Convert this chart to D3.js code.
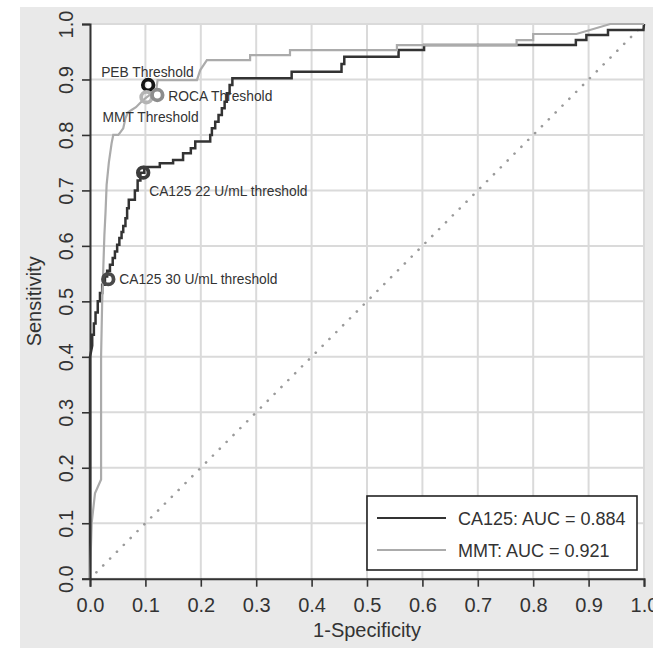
<!DOCTYPE html>
<html>
<head>
<meta charset="utf-8">
<script src="https://cdn.jsdelivr.net/npm/d3@7"></script>
<style>
  html, body { margin: 0; padding: 0; background: #ffffff; }
  svg text { font-family: "Liberation Sans", Arial, sans-serif; fill: #333; }
</style>
</head>
<body>
<svg id="chart" width="653" height="648"></svg>
<script>
// ROC curve for CA125 as [1-specificity, sensitivity] points (staircase corners)
const ca125Roc = [
  [0, 0], [0, 0.40], [0.002, 0.41], [0.004, 0.42],
  [0.004, 0.44], [0.007, 0.44], [0.007, 0.46], [0.010, 0.46], [0.010, 0.48],
  [0.014, 0.48], [0.014, 0.50], [0.018, 0.50], [0.018, 0.515], [0.022, 0.515],
  [0.022, 0.53], [0.027, 0.53], [0.027, 0.545], [0.031, 0.545], [0.031, 0.555],
  [0.036, 0.555], [0.036, 0.566], [0.041, 0.566], [0.041, 0.578], [0.045, 0.578],
  [0.045, 0.59], [0.049, 0.59], [0.049, 0.602], [0.053, 0.602], [0.053, 0.614],
  [0.057, 0.614], [0.057, 0.625], [0.060, 0.625], [0.060, 0.636], [0.064, 0.636],
  [0.064, 0.65], [0.067, 0.65], [0.067, 0.668], [0.070, 0.668], [0.070, 0.683],
  [0.081, 0.683], [0.081, 0.700], [0.086, 0.700], [0.086, 0.718], [0.091, 0.718],
  [0.091, 0.732], [0.098, 0.732], [0.098, 0.742], [0.126, 0.742], [0.126, 0.749],
  [0.150, 0.749], [0.150, 0.755], [0.168, 0.755], [0.168, 0.767], [0.182, 0.767],
  [0.182, 0.776], [0.190, 0.776], [0.190, 0.788], [0.217, 0.788], [0.217, 0.800],
  [0.220, 0.800], [0.220, 0.812], [0.226, 0.812], [0.226, 0.824], [0.232, 0.824],
  [0.232, 0.836], [0.238, 0.836], [0.238, 0.848], [0.243, 0.848], [0.243, 0.860],
  [0.247, 0.860], [0.247, 0.875], [0.252, 0.875], [0.252, 0.890], [0.257, 0.890],
  [0.257, 0.902], [0.364, 0.902], [0.364, 0.914], [0.454, 0.914], [0.454, 0.928],
  [0.459, 0.928], [0.459, 0.941], [0.557, 0.941], [0.557, 0.953], [0.603, 0.953],
  [0.603, 0.962], [0.877, 0.962], [0.877, 0.971], [0.896, 0.971], [0.896, 0.980],
  [0.935, 0.980], [0.935, 0.989], [0.999, 0.989], [1, 1]
];

// ROC curve for MMT
const mmtRoc = [
  [0, 0], [0.003, 0.10], [0.009, 0.154], [0.020, 0.179], [0.020, 0.40],
  [0.021, 0.45], [0.022, 0.50], [0.024, 0.56], [0.026, 0.62], [0.028, 0.66],
  [0.030, 0.71], [0.034, 0.75], [0.039, 0.785], [0.042, 0.80], [0.051, 0.80],
  [0.055, 0.805], [0.060, 0.812], [0.064, 0.83], [0.068, 0.84], [0.075, 0.845],
  [0.083, 0.85], [0.090, 0.857], [0.096, 0.863], [0.105, 0.87], [0.113, 0.877],
  [0.120, 0.884], [0.122, 0.899], [0.193, 0.899], [0.196, 0.908], [0.199, 0.917],
  [0.205, 0.926], [0.211, 0.935], [0.289, 0.935], [0.289, 0.944], [0.361, 0.944],
  [0.361, 0.953], [0.554, 0.953], [0.554, 0.962], [0.770, 0.962], [0.770, 0.971],
  [0.800, 0.971], [0.800, 0.982], [0.878, 0.982], [0.939, 1.0], [1, 1]
];

// Reference (chance) diagonal
const chanceLine = [[0, 0], [1, 1]];

// Operating points at the named thresholds
const thresholdNames = ["PEB Threshold", "MMT Threshold", "ROCA Threshold",
                        "CA125 22 U/mL threshold", "CA125 30 U/mL threshold"];
const thresholdFpr  = [0.105, 0.102, 0.1215, 0.096, 0.033];
const thresholdSens = [0.890, 0.868, 0.872, 0.732, 0.540];
const thresholdColors = ["#151515", "#b4b4b4", "#8c8c8c", "#3c3c3c", "#4a4a4a"];

// Axis ticks
const tickValues = [0, 0.1, 0.2, 0.3, 0.4, 0.5, 0.6, 0.7, 0.8, 0.9, 1.0];
const tickLabels = ["0.0", "0.1", "0.2", "0.3", "0.4", "0.5", "0.6", "0.7", "0.8", "0.9", "1.0"];

// Legend entries
const legendLabels = ["CA125: AUC = 0.884", "MMT: AUC = 0.921"];
const seriesColors = ["#333333", "#ababab"];

const W = 653, H = 648;
const margin = { left: 90, right: 9, top: 24, bottom: 69.3 };

const svg = d3.select("#chart");

// outer grey figure region
svg.append("rect").attr("x", 20).attr("y", 7).attr("width", W - 20).attr("height", H - 7)
  .attr("fill", "#e9e9e9");

const x = d3.scaleLinear().domain([0, 1]).range([margin.left, W - margin.right]);
const y = d3.scaleLinear().domain([0, 1]).range([H - margin.bottom, margin.top]);

// plot panel
svg.append("rect")
  .attr("x", x(0)).attr("y", y(1))
  .attr("width", x(1) - x(0)).attr("height", y(0) - y(1))
  .attr("fill", "#ffffff");

// grid
const grid = svg.append("g").attr("stroke", "#dadada").attr("stroke-width", 2);
grid.selectAll("line.v").data(tickValues).join("line")
  .attr("class", "v")
  .attr("x1", d => x(d)).attr("x2", d => x(d))
  .attr("y1", y(0)).attr("y2", y(1));
grid.selectAll("line.h").data(tickValues).join("line")
  .attr("class", "h")
  .attr("y1", d => y(d)).attr("y2", d => y(d))
  .attr("x1", x(0)).attr("x2", x(1));

// chance diagonal, dotted
svg.append("path")
  .datum(chanceLine)
  .attr("d", d3.line().x(d => x(d[0])).y(d => y(d[1])))
  .attr("fill", "none")
  .attr("stroke", "#9a9a9a")
  .attr("stroke-width", 2.6)
  .attr("stroke-linecap", "round")
  .attr("stroke-dasharray", "0.1,9.6")
  .attr("stroke-dashoffset", -9);

const line = d3.line().x(d => x(d[0])).y(d => y(d[1]));

svg.append("path").datum(ca125Roc)
  .attr("d", line).attr("fill", "none")
  .attr("stroke", seriesColors[0]).attr("stroke-width", 2.5)
  .attr("stroke-linejoin", "miter");

svg.append("path").datum(mmtRoc)
  .attr("d", line).attr("fill", "none")
  .attr("stroke", seriesColors[1]).attr("stroke-width", 2.2);

// threshold markers
svg.append("g").selectAll("circle").data(thresholdNames).join("circle")
  .attr("cx", (d, i) => x(thresholdFpr[i]))
  .attr("cy", (d, i) => y(thresholdSens[i]))
  .attr("r", 5.3)
  .attr("fill", "none")
  .attr("stroke", (d, i) => thresholdColors[i])
  .attr("stroke-width", 3.8);

// threshold labels: offset from each marker
const labelOffsets = {
  "PEB Threshold": [-47, -8, "start"],
  "MMT Threshold": [-44, 25, "start"],
  "ROCA Threshold": [11, 6, "start"],
  "CA125 22 U/mL threshold": [6, 23, "start"],
  "CA125 30 U/mL threshold": [11, 5, "start"]
};
svg.append("g").selectAll("text").data(thresholdNames).join("text")
  .attr("x", (d, i) => x(thresholdFpr[i]) + labelOffsets[d][0])
  .attr("y", (d, i) => y(thresholdSens[i]) + labelOffsets[d][1])
  .attr("text-anchor", (d) => labelOffsets[d][2])
  .attr("font-size", 13.8)
  .text(d => d);

// axes
const xAxis = d3.axisBottom(x).tickValues(tickValues)
  .tickFormat((d, i) => tickLabels[i]).tickSizeOuter(0).tickSize(8);
const gx = svg.append("g").attr("transform", `translate(0,${y(0)})`).call(xAxis);
gx.select(".domain").attr("stroke", "#333").attr("stroke-width", 2);
gx.selectAll(".tick line").attr("stroke", "#333").attr("stroke-width", 1.6);
gx.selectAll(".tick text").attr("y", 33).attr("dy", 0)
  .attr("font-size", 20).attr("fill", "#333")
  .attr("font-family", "'Liberation Sans', Arial, sans-serif");

const yAxis = d3.axisLeft(y).tickValues(tickValues)
  .tickFormat((d, i) => tickLabels[i]).tickSizeOuter(0).tickSize(8);
const gy = svg.append("g").attr("transform", `translate(${x(0)},0)`).call(yAxis);
gy.select(".domain").attr("stroke", "#333").attr("stroke-width", 2);
gy.selectAll(".tick line").attr("stroke", "#333").attr("stroke-width", 1.6);
gy.selectAll(".tick text")
  .attr("transform", "rotate(-90)")
  .attr("x", 0).attr("y", -17).attr("dy", 0)
  .attr("text-anchor", "middle")
  .attr("font-size", 20).attr("fill", "#333")
  .attr("font-family", "'Liberation Sans', Arial, sans-serif");

// axis titles
svg.append("text")
  .attr("x", x(0.5)).attr("y", 637)
  .attr("text-anchor", "middle").attr("font-size", 20)
  .text("1-Specificity");
svg.append("text")
  .attr("transform", `translate(41,${y(0.5)}) rotate(-90)`)
  .attr("text-anchor", "middle").attr("font-size", 20)
  .text("Sensitivity");

// legend
const legend = svg.append("g");
legend.append("rect")
  .attr("x", 367).attr("y", 496).attr("width", 270).attr("height", 74)
  .attr("fill", "#ffffff").attr("stroke", "#222").attr("stroke-width", 1.6);
legendLabels.forEach((lab, i) => {
  const ly = 518 + i * 32;
  legend.append("line")
    .attr("x1", 377).attr("x2", 446).attr("y1", ly).attr("y2", ly)
    .attr("stroke", seriesColors[i]).attr("stroke-width", 2);
  legend.append("text")
    .attr("x", 458).attr("y", ly + 6.5)
    .attr("font-size", 18)
    .text(lab);
});
</script>
</body>
</html>
